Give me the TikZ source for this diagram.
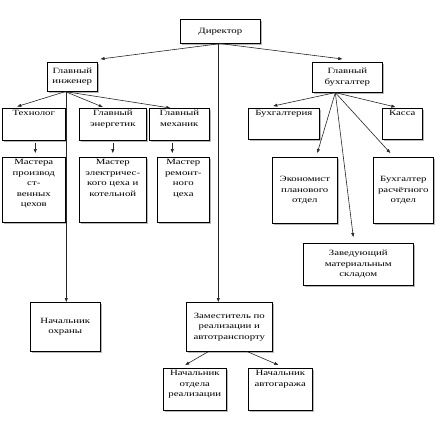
\documentclass[tikz,border=0pt]{standalone}
\usepackage{fontspec}
\setmainfont{Liberation Serif}[FakeStretch=1.35]
\usetikzlibrary{arrows.meta,shadows}
\newcommand\bt[4]{\parbox[c][#2pt][#3]{#1pt}{\centering\vspace*{2pt}#4\par\vspace*{2pt}}}
\tikzset{
  box/.style={draw=black, line width=0.6pt, fill=white, inner sep=0pt, anchor=north west,
    font=\fontsize{8}{10.5}\selectfont,
    drop shadow={shadow xshift=1.2pt, shadow yshift=-1.2pt, fill=gray!70, opacity=0.8}},
  arr/.style={draw=black!85, line width=0.6pt, -{Triangle[length=4pt,width=3pt]}}
}
\begin{document}
\begin{tikzpicture}[x=1pt,y=-1pt]
\useasboundingbox (0,0) rectangle (441,421);
% top
\node[box] (dir) at (180,19) {\bt{80}{24}{c}{Директор}};
\node[box] (gi) at (47,62) {\bt{50}{29}{c}{Главный\\инженер}};
\node[box] (gb) at (312,62) {\bt{70}{30}{c}{Главный\\бухгалтер}};
% engineer branch
\node[box] (tech) at (2,108) {\bt{63}{32}{t}{Технолог}};
\node[box] (energ) at (79,108) {\bt{67}{32}{t}{Главный\\энергетик}};
\node[box] (mech) at (149,108) {\bt{60}{32}{t}{Главный\\механик}};
\node[box] (m1) at (2,157) {\bt{63}{65}{t}{Мастера\\производ\\ст-\\венных\\цехов}};
\node[box] (m2) at (79,157) {\bt{67}{65}{t}{Мастер\\электричес-\\кого цеха и\\котельной}};
\node[box] (m3) at (157,157) {\bt{52}{65}{t}{Мастер\\ремонт-\\ного\\цеха}};
\node[box] (ohr) at (30,302) {\bt{70}{49}{c}{Начальник\\охраны}};
% accountant branch
\node[box] (buh) at (248,108) {\bt{71}{31}{t}{Бухгалтерия}};
\node[box] (kas) at (382,108) {\bt{40}{31}{t}{Касса}};
\node[box] (econ) at (272,157) {\bt{65}{66}{c}{Экономист\\планового\\отдел}};
\node[box] (bras) at (373,157) {\bt{60}{66}{c}{Бухгалтер\\расчётного\\отдел}};
\node[box] (zav) at (303,243) {\bt{110}{42}{c}{Заведующий\\материальным\\складом}};
% deputy branch
\node[box] (zam) at (186,302) {\bt{86}{49}{c}{Заместитель по\\реализации и\\автотранспорту}};
\node[box] (nor) at (163,368) {\bt{63}{42}{t}{Начальник\\отдела\\реализации}};
\node[box] (nag) at (248,368) {\bt{64}{42}{t}{Начальник\\автогаража}};
% connectors from director
\draw[arr] (dir.south) -- ([xshift=3pt,yshift=3pt]gi.north east);
\draw[arr] (dir.south) -- ([xshift=-5pt,yshift=3pt]gb.north);
\draw[arr] ([xshift=-2pt]dir.south) -- ([xshift=-2pt]dir.south |- zam.north);
% chief engineer
\coordinate (gio) at ([xshift=-7pt]gi.south);
\draw[arr] (gio) -- ([xshift=-16.5pt,yshift=1.5pt]tech.north);
\draw[arr] (gio) -- ([xshift=-10pt,yshift=1pt]energ.north);
\draw[arr] (gio) -- ([xshift=-9pt]mech.north);
\draw[arr] ([xshift=-6pt]gi.south) -- ([xshift=-6pt]gi.south |- ohr.north);
\draw[arr] ([xshift=1.5pt,yshift=-2pt]tech.south) -- ([xshift=1.5pt,yshift=4pt]m1.north);
\draw[arr] ([yshift=-2pt]energ.south) -- ([yshift=4pt]m2.north);
\draw[arr] ([xshift=-7pt,yshift=-2pt]mech.south) -- ([xshift=-11pt,yshift=4pt]m3.north);
% chief accountant
\coordinate (gbo) at ([xshift=-12pt]gb.south);
\draw[arr] (gbo) -- ([xshift=-10.5pt,yshift=2pt]buh.north);
\draw[arr] (gbo) -- ([xshift=-7pt,yshift=1pt]kas.north);
\draw[arr] (gbo) -- ([xshift=12.5pt,yshift=4pt]econ.north);
\draw[arr] (gbo) -- ([xshift=-13pt,yshift=4pt]bras.north);
\draw[arr] (gbo) -- ([xshift=-5pt,yshift=6pt]zav.north);
% deputy
\draw[arr] ([xshift=-21pt]zam.south) -- ([xshift=-9.5pt,yshift=3pt]nor.north);
\draw[arr] ([xshift=18pt]zam.south) -- ([xshift=-2pt,yshift=3pt]nag.north);
\end{tikzpicture}
\end{document}
